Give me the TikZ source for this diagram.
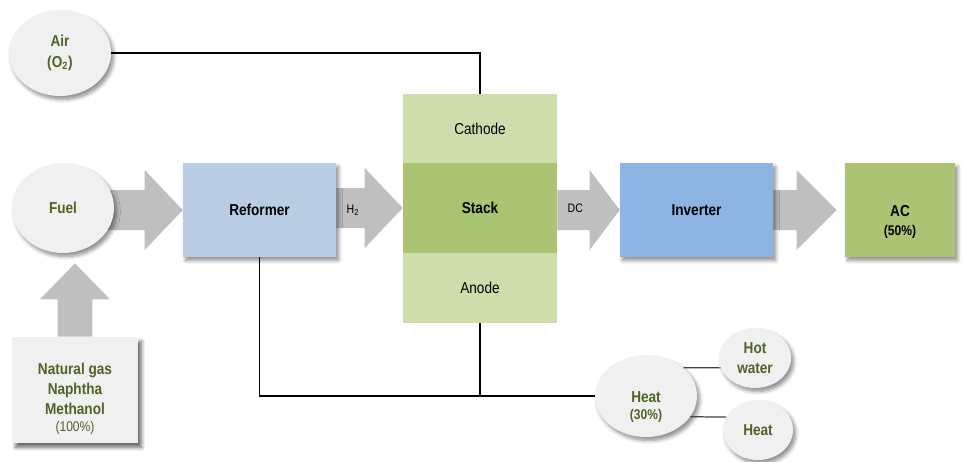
\documentclass[tikz,border=0pt]{standalone}
\usepackage{fontspec}
\setmainfont{Liberation Sans}[FakeStretch=0.86]
\usetikzlibrary{positioning,shapes.geometric,calc,backgrounds,shadows.blur}

\definecolor{leafgreen}{HTML}{4F6228}
\definecolor{blobgrey}{HTML}{F0F0F0}
\definecolor{flowgrey}{HTML}{BFBFBF}
\definecolor{reformblue}{HTML}{B9CDE5}
\definecolor{invblue}{HTML}{8EB4E3}
\definecolor{cellpale}{HTML}{CDDDAC}
\definecolor{celldark}{HTML}{AAC473}

\tikzset{
  base/.style={font=\fontsize{9}{11.5}\selectfont\bfseries, align=center, inner sep=0pt},
  soft/.style={blur shadow={shadow xshift=1.5pt, shadow yshift=-2pt, shadow blur steps=6, shadow opacity=45}},
  blob/.style={base, ellipse, fill=blobgrey, text=leafgreen, soft},
  unit/.style={base, rectangle, minimum width=3.06cm, minimum height=1.88cm, soft},
  layer/.style={rectangle, minimum width=3.08cm, inner sep=0pt, font=\fontsize{9}{11}\selectfont},
  flow/.style={fill=flowgrey},
  pipe/.style={draw=black, line width=0.6pt},
  branch/.style={draw=black!75, line width=0.7pt},
  tag/.style={font=\fontsize{7}{8}\selectfont, inner sep=0pt}
}

% smaller second line, e.g. shares
\newcommand{\share}[1]{{\fontsize{8}{9}\selectfont #1}}
% fat grey arrow from #2 to the tip #3, #1 = head length
\newcommand{\flowarrow}[3][0.76cm]{%
  \fill[flow] let \p1=(#2), \p2=(#3) in
    (\x1,{\y2+0.4cm}) -- ({\x2-#1},{\y2+0.4cm}) -- ({\x2-#1},{\y2+0.8cm})
    -- (\x2,\y2) -- ({\x2-#1},{\y2-0.8cm}) -- ({\x2-#1},{\y2-0.4cm})
    -- (\x1,{\y2-0.4cm}) -- cycle;}

\begin{document}
\begin{tikzpicture}[x=0.02cm, y=-0.02cm]
\useasboundingbox (0,0) rectangle (962,461);

\node (air) at (60,53) [blob, minimum width=2.04cm, minimum height=1.72cm] {Air\\(O\textsubscript{2})};
\node (fuel) at (63,208) [blob, minimum width=2.04cm, minimum height=1.8cm] {Fuel};
\node (gas) at (75,390) [base, fill=blobgrey, text=leafgreen, minimum width=2.52cm, minimum height=2.12cm,
  blur shadow={shadow xshift=2pt, shadow yshift=-2.5pt, shadow blur steps=6, shadow opacity=60}]
  {\rule{0pt}{16pt}Natural gas\\Naphtha\\Methanol\\[-2pt]\share{\mdseries(100\%)}};
\coordinate (fueltip) at ([yshift=-0.2cm]fuel.south);

\node (reformer) at (259.5,210) [unit, fill=reformblue] {Reformer};

\begin{scope}[on background layer]
\fill[soft, fill=white] (403,94) rectangle (557,323);
\end{scope}
\node (cathode) at (480,128.5) [layer, fill=cellpale, minimum height=1.38cm] {Cathode};
\node (stack) at (480,208) [layer, fill=celldark, minimum height=1.8cm, font=\fontsize{9}{11}\selectfont\bfseries] {Stack};
\node (anode) at (480,288) [layer, fill=cellpale, minimum height=1.4cm] {Anode};

\node (inverter) at (696.5,210) [unit, fill=invblue] {Inverter};
\node (ac) at (900,210) [unit, fill=celldark, minimum width=2.2cm] {\rule{0pt}{20pt}AC\\[-1pt]\share{(50\%)}};
\coordinate (actip) at ([xshift=-0.16cm]ac.west);

\node (heat) at (646,396) [blob, minimum width=2.04cm, minimum height=1.64cm] {\rule{0pt}{19pt}Heat\\[-2pt]\share{(30\%)}};
\node (hotwater) at (755,358) [blob, minimum width=1.44cm, minimum height=1.2cm] {Hot\\water};
\node (heatuse) at (758,430) [blob, minimum width=1.4cm, minimum height=1.2cm] {Heat};

\node (htwo) [tag, right=0.2cm of reformer.east, anchor=west] {H\textsubscript{2}};
\node (dc) [tag, right=0.2cm of stack.east, anchor=west] {DC};

% grey flow arrows behind the nodes
\begin{scope}[on background layer]
\flowarrow{fuel.center}{reformer.west}
\flowarrow{reformer.east}{stack.west}
\flowarrow[0.6cm]{stack.east}{inverter.west}
\flowarrow[0.8cm]{inverter.east}{actip}
\fill[flow] let \p1=(gas.north), \p2=(fueltip) in
  ({\x1-0.35cm},\y1) -- ({\x1-0.35cm},{\y2-0.72cm}) -- ({\x1-0.7cm},{\y2-0.72cm})
  -- (\x1,\y2) -- ({\x1+0.7cm},{\y2-0.72cm}) -- ({\x1+0.35cm},{\y2-0.72cm})
  -- ({\x1+0.35cm},\y1) -- cycle;
\end{scope}

\draw [pipe] (air.east) -| (cathode.north);
\draw [pipe] (reformer.south) |- (heat.west);
\draw [pipe] (anode.south) -- (anode.south |- heat.west);
\draw [branch] (heat.37) -- (hotwater.196);
\draw [branch] (heat.-25) -- (heatuse.158);
\end{tikzpicture}
\end{document}
